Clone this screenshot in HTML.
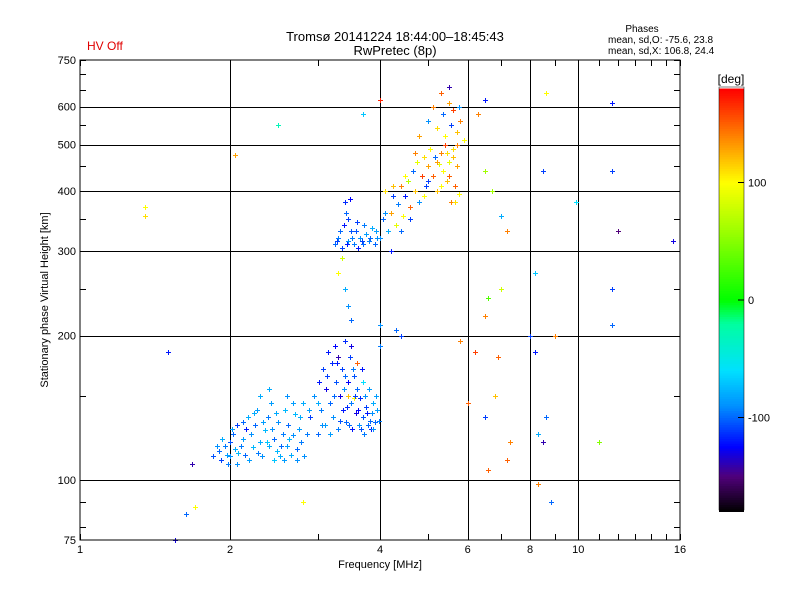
<!DOCTYPE html>
<html><head><meta charset="utf-8"><style>
body{margin:0;background:#fff;width:800px;height:600px;overflow:hidden}
svg{display:block;font-family:"Liberation Sans",sans-serif}
</style></head><body>
<svg id="chart" width="800" height="600">
<rect width="800" height="600" fill="#fff"/>
<text x="395" y="41" font-size="13" text-anchor="middle">Tromsø 20141224 18:44:00–18:45:43</text>
<text x="395" y="55" font-size="13" text-anchor="middle">RwPretec (8p)</text>
<text x="87" y="50" font-size="12" fill="#e00000">HV Off</text>
<text x="642" y="32" font-size="10" text-anchor="middle">Phases</text>
<text x="608" y="43" font-size="10">mean, sd,O: -75.6, 23.8</text>
<text x="608" y="54" font-size="10">mean, sd,X: 106.8, 24.4</text>
<g id="grid"></g>
<g id="points"></g>
<rect x="80" y="60" width="600" height="480" fill="none" stroke="#000"/>
<g id="axes"></g>
<text x="380" y="568" font-size="11" text-anchor="middle">Frequency [MHz]</text>
<text transform="translate(48,300) rotate(-90)" font-size="11" text-anchor="middle">Stationary phase Virtual Height [km]</text>
<g id="cbar"></g>
</svg>
<script>
const freqs=[1.85,1.9,1.92,1.95,1.97,2.0,2.0,2.03,2.05,2.07,2.1,2.12,2.14,2.17,2.2,2.22,2.25,2.27,2.3,2.32,2.35,2.38,2.4,2.42,2.45,2.48,2.5,2.52,2.55,2.58,2.6,2.62,2.65,2.67,2.7,2.72,2.75,2.78,2.8,2.82,1.68,2.07,2.3,2.15,2.45,
2.9,2.95,3.0,3.02,3.05,3.08,3.1,3.12,3.15,3.18,3.2,3.22,3.25,3.27,3.3,3.32,3.35,3.37,3.4,3.42,3.45,3.48,3.5,3.52,3.55,3.58,3.6,3.63,3.65,3.68,3.7,3.72,3.75,3.78,3.8,3.83,3.85,3.88,3.9,3.95,3.3,3.6,3.45,3.55,3.7,
3.25,3.3,3.35,3.38,3.4,3.42,3.45,3.48,3.5,3.55,3.6,3.62,3.65,3.7,3.75,3.8,3.85,3.9,3.95,3.35,3.3,3.4,3.45,3.5,
4.0,4.05,4.1,4.15,4.2,4.25,4.3,4.35,4.4,4.45,4.5,4.55,4.6,4.65,4.7,4.75,4.8,4.85,4.9,4.95,5.0,5.05,5.1,5.15,5.2,5.25,5.3,5.35,5.4,5.45,5.5,5.55,5.6,5.65,5.7,5.75,4.2,4.0,4.3,4.4,4.0,
4.8,5.0,5.1,5.2,5.3,5.35,5.4,5.5,5.55,5.6,5.7,5.75,5.8,5.9,5.5,
1.35,1.35,1.5,1.63,1.7,1.55,2.05,2.5,2.8,3.7,4.0,6.5,6.7,6.5,7.0,7.2,7.0,6.6,6.5,7.3,6.5,6.6,7.2,8.0,8.2,8.2,8.3,8.5,8.6,8.5,8.6,8.3,8.8,9.0,9.9,11.0,11.7,11.7,11.7,12.0,11.7,15.5,6.3,5.8,6.2,6.9,6.0,6.8,
1.88,1.93,1.98,2.02,2.08,2.12,2.18,2.23,2.28,2.33,2.37,2.43,2.47,2.53,2.57,2.63,2.68,2.73,2.77,2.85,2.88,2.4,2.6,
3.0,3.06,3.13,3.17,3.23,3.28,3.33,3.38,3.43,3.47,3.53,3.57,3.62,3.67,3.73,3.77,3.82,3.87,3.92,3.98,3.4,3.5,
3.28,3.33,3.43,3.52,3.58,3.68,3.72,3.82,3.92,3.45,
4.1,4.25,4.4,4.5,4.6,4.7,4.9,5.0,5.2,5.3,5.5,5.6,5.65,5.7,5.45];
const heights=[112,115,110,118,113,120,112,125,116,130,118,122,113,135,125,117,130,140,120,112,127,135,118,145,122,115,132,112,125,140,118,130,113,124,137,116,128,120,145,112,108,108,150,128,110,
135,150,125,160,140,170,130,155,185,145,175,135,190,160,128,150,170,140,195,132,160,180,145,128,165,138,155,130,148,170,135,125,142,130,155,128,138,145,132,140,180,175,150,148,160,
310,320,305,340,380,360,315,385,330,310,345,305,320,310,325,315,335,310,320,290,270,250,230,215,
320,350,400,330,360,390,340,375,410,355,390,420,370,440,400,460,380,430,470,410,450,490,430,470,400,455,480,440,500,420,460,380,490,410,450,395,300,210,205,200,190,
520,560,600,540,640,580,520,610,550,590,530,600,560,510,660,
370,355,185,85,88,75,475,550,90,580,620,620,400,440,355,330,250,240,220,120,135,105,110,200,185,270,125,120,135,440,640,98,90,200,380,120,250,440,610,330,210,315,580,195,185,180,145,150,
118,122,108,128,114,132,110,138,114,132,120,128,138,118,110,122,145,110,135,125,140,155,150,
145,130,165,125,150,175,133,155,142,130,170,150,140,128,150,138,133,128,150,133,165,190,
315,330,310,320,330,315,340,320,330,350,
360,410,330,430,350,480,390,420,460,410,430,470,380,500,480];
const phases=[-105,-100,-110,-95,-85,-105,-90,-100,-80,-110,-95,-85,-100,-80,-90,-75,-100,-85,-80,-90,-75,-95,-80,-85,-100,-75,-90,-80,-95,-75,-85,-100,-80,-90,-75,-100,-85,-95,-80,-90,-140,-90,-80,-120,-70,
-110,-90,-100,-120,-95,-110,-85,-130,-120,-100,-115,-90,-125,-105,-95,-130,-110,-120,-115,-100,-125,-110,-95,-120,-105,-130,-100,-90,-115,-120,-105,-95,-110,-100,-85,-120,-90,-80,-100,-85,-140,150,120,100,-60,
-100,-95,-110,-120,-115,-100,-90,-125,-105,-95,-110,-120,-90,-100,-85,-95,-80,-100,-90,80,100,-80,-90,-100,
-90,-100,110,-80,130,-110,90,-95,140,100,-120,70,150,-100,120,90,-90,160,110,-110,130,100,150,-100,120,90,140,100,160,120,90,140,110,150,130,100,-120,-90,-100,-110,-95,
130,-90,140,110,150,-100,100,130,-110,160,120,-90,140,100,-140,
100,110,-120,-100,100,-130,130,-30,100,-70,170,-120,60,60,-80,140,80,30,140,140,-110,150,150,-110,-120,-70,-80,-140,-100,-110,100,140,-100,140,-60,50,-110,-110,-120,-150,-100,-130,140,140,160,150,150,120,
-90,-80,-95,-85,-75,-100,-85,-80,-95,-85,-70,-90,-80,-100,-85,-75,-85,-90,-80,-95,-85,-80,-90,
-80,-90,-110,-85,-100,-120,-105,-90,-115,-100,-95,-110,-125,-105,-90,-120,-100,-90,-85,-95,-100,-130,
-110,-100,-120,-95,-105,-110,-95,-100,-85,-110,
-90,120,-100,100,-110,140,100,-110,130,100,150,120,110,140,110];
const xTicks=[1,2,4,6,8,10,16];
const yTicks=[75,100,200,300,400,500,600,750];
const cbTicks=[100,0,-100];

const NS='http://www.w3.org/2000/svg';
const X=f=>80+150*Math.log2(f);
const Y=h=>540-480*Math.log10(h/75);
const CB=p=>300-p*(423/360);
const stops=[[-180,0,0,0],[-150,80,0,122],[-125,0,0,255],[-90,0,144,255],[-60,0,224,255],[-20,0,255,160],[0,0,255,0],[60,160,255,0],[100,255,255,0],[140,255,128,0],[180,255,0,0]];
function hex2(v){v=Math.max(0,Math.min(255,Math.round(v)));return (v<16?'0':'')+v.toString(16);}
function col(p){p=Number(p);if(!isFinite(p))p=0;p=Math.max(-180,Math.min(180,p));
for(let i=1;i<stops.length;i++){if(p<=stops[i][0]){const a=stops[i-1],b=stops[i],t=(p-a[0])/(b[0]-a[0]);
return '#'+hex2(a[1]+t*(b[1]-a[1]))+hex2(a[2]+t*(b[2]-a[2]))+hex2(a[3]+t*(b[3]-a[3]));}}return '#ff0000';}
function mk(tag,attrs,parent){const e=document.createElementNS(NS,tag);for(const k in attrs)e.setAttribute(k,attrs[k]);parent.appendChild(e);return e;}
const grid=document.getElementById('grid'),axes=document.getElementById('axes'),pts=document.getElementById('points'),cbar=document.getElementById('cbar');
[2,4,6,8,10].forEach(f=>{const l=mk('line',{x1:Math.round(X(f))+0.5,x2:Math.round(X(f))+0.5,y1:60,y2:540,stroke:'#000'},grid);

});
[100,200,300,400,500,600].forEach(h=>{const l=mk('line',{x1:80,x2:680,y1:Math.round(Y(h))+0.5,y2:Math.round(Y(h))+0.5,stroke:'#000'},grid);

});
for(let f=1;f<=16;f++){const xx=Math.round(X(f))+0.5;mk('line',{x1:xx,x2:xx,y1:540,y2:534,stroke:'#000'},axes);mk('line',{x1:xx,x2:xx,y1:60,y2:66,stroke:'#000'},axes);}
[80,90,100,150,200,250,300,350,400,450,500,550,600,650,700,750].forEach(h=>{const yy=Math.round(Y(h))+0.5;mk('line',{x1:80,x2:86,y1:yy,y2:yy,stroke:'#000'},axes);mk('line',{x1:680,x2:674,y1:yy,y2:yy,stroke:'#000'},axes);});
xTicks.forEach(f=>{const t=mk('text',{x:X(f),y:553,'font-size':11,'text-anchor':'middle'},axes);t.textContent=f;

});
yTicks.forEach(h=>{const t=mk('text',{x:76,y:Y(h)+4,'font-size':11,'text-anchor':'end'},axes);t.textContent=h;

});
const n=Math.min(freqs.length,heights.length,phases.length);
for(let i=0;i<n;i++){const x=Math.round(X(freqs[i])),y=Math.round(Y(heights[i])),c=col(phases[i]);
const g=mk('g',{},pts);


mk('rect',{x:x-2,y:y,width:5,height:1,fill:c,style:'fill:'+c},g);
mk('rect',{x:x,y:y-2,width:1,height:5,fill:c,style:'fill:'+c},g);}
for(let p=-180;p<180;p+=2){const c=col(p+1);mk('rect',{x:719,y:CB(p+2),width:25,height:423/180+0.5,fill:c,style:'fill:'+c},cbar);}
mk('rect',{x:719,y:87,width:25,height:423,fill:'none',stroke:'#000','stroke-width':0.5},cbar);
const dl=mk('text',{x:731,y:83,'font-size':12,'text-anchor':'middle'},cbar);dl.textContent='[deg]';


cbTicks.forEach(p=>{mk('line',{x1:738,x2:744,y1:CB(p),y2:CB(p),stroke:'#000'},cbar);const t=mk('text',{x:748,y:CB(p)+4,'font-size':11},cbar);t.textContent=p;

});
</script>
</body></html>
